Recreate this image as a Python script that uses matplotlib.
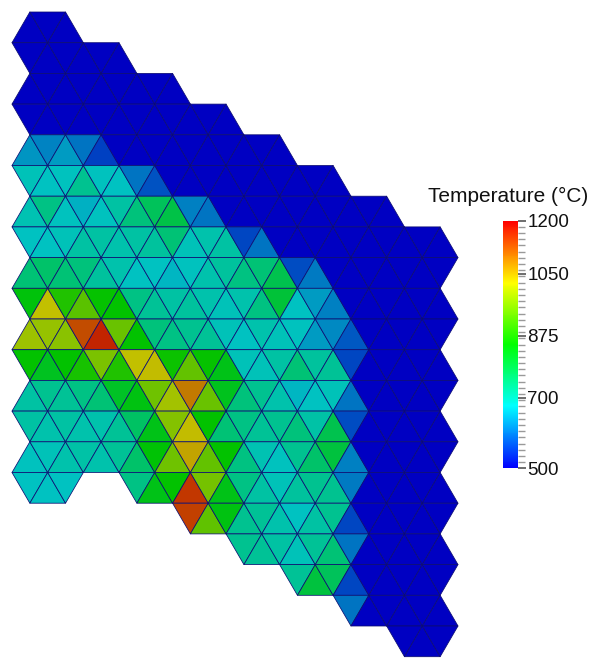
import numpy as np
import matplotlib
matplotlib.use("Agg")
import matplotlib.pyplot as plt
from matplotlib.colors import ListedColormap, Normalize, hsv_to_rgb
from matplotlib.collections import PolyCollection
from matplotlib.cm import ScalarMappable
from matplotlib.ticker import FixedLocator

# ---------------- data ----------------
D = 500  # cold (clamped) cells
vmin, vmax = 500, 1200
cbar_ticks = [500, 700, 875, 1050, 1200]
cbar_title = "Temperature (°C)"

# hexagon columns: first and last triangle strip covered by each column
col_first = [0, 1, 2, 3, 4, 5, 6, 7]
col_last = [15, 14, 15, 16, 17, 18, 19, 20]

# temperature of each triangle, strip by strip, left to right
s00 = [D] * 3
s01 = [D] * 6
s02 = [D] * 9
s03 = [D] * 12
s04 = [635, 620, 640, 605, 560] + [D] * 10
s05 = [685, 675, 680, 720, 680, 675, 605, 575] + [D] * 10
s06 = [690, 730, 680, 660, 680, 705, 740, 770, 785, 615, 605] + [D] * 10
s07 = [675, 675, 685, 705, 705, 695, 705, 710, 745, 685, 695, 705, 565, 605] + [D] * 10
s08 = [745, 755, 745, 740, 710, 695, 675, 675, 665, 680, 695, 710, 735, 745, 780, 570, 610] + [D] * 7
s09 = [840, 1025, 880, 930, 855, 850, 730, 715, 705, 710, 695, 685, 695, 735, 800, 675, 640, 615] + [D] * 6
s10 = [990, 985, 975, 1130, 1165, 945, 850, 740, 730, 720, 715, 685, 675, 695, 685, 680, 640, 625, 580] + [D] * 5
s11 = [850, 820, 850, 870, 960, 880, 1025, 1030, 860, 940, 855, 830, 685, 685, 705, 745, 710, 715, 565] + [D] * 5
s12 = [705, 720, 715, 730, 745, 815, 835, 950, 995, 1090, 945, 825, 740, 720, 695, 665, 675, 685, 605] + [D] * 5
s13 = [705, 695, 705, 695, 695, 715, 760, 830, 970, 1030, 850, 745, 730, 715, 720, 740, 700, 780, 570] + [D] * 5
s14 = [680, 685, 695, 700, 695, 715, 755, 845, 950, 1050, 940, 850, 735, 690, 680, 720, 755, 795, 615] + [D] * 5
s15 = [675, 675, 675] + [730, 830, 850, 1150, 955, 830, 730, 705, 685, 710, 720, 720, 610] + [D] * 5
s16 = [1140, 935, 835, 720, 715, 695, 675, 705, 720, 565] + [D] * 5
s17 = [720, 715, 705, 685, 715, 745, 605] + [D] * 5
s18 = [715, 795, 770, 565] + [D] * 5
s19 = [605] + [D] * 5
s20 = [D] * 3
strips = [s00, s01, s02, s03, s04, s05, s06, s07, s08, s09, s10,
          s11, s12, s13, s14, s15, s16, s17, s18, s19, s20]

# ---------------- mesh ----------------
polys, vals = [], []
for j, row in enumerate(strips):
    us = [u for a in range(len(col_first)) if col_first[a] <= j <= col_last[a]
          for u in (3 * a + 1, 3 * a + 2, 3 * a + 3)]
    assert len(us) == len(row), (j, len(us), len(row))
    for u, v in zip(us, row):
        if (u + j) % 2 == 1:
            tri = [(u, j), (u - 1, j + 1), (u + 1, j + 1)]
        else:
            tri = [(u - 1, j), (u + 1, j), (u, j + 1)]
        polys.append(tri)
        vals.append(v)

hues = np.linspace(2 / 3, 0, 256)
rgb = hsv_to_rgb(np.stack([hues, np.ones_like(hues), np.ones_like(hues)], axis=1))
cmap_bar = ListedColormap(rgb)
cmap_mesh = ListedColormap(rgb * 0.76)
norm = Normalize(vmin=vmin, vmax=vmax)

W, H = 610, 658
fig = plt.figure(figsize=(W / 100, H / 100), dpi=100)
ax = fig.add_axes([0, 0, 1, 1])
sx, sy, x0, y0 = 17.84, 30.7, 12.0, 12.0
ax.set_xlim(-x0 / sx, (W - x0) / sx)
ax.set_ylim((H - y0) / sy, -y0 / sy)
ax.axis("off")

pc = PolyCollection(polys, cmap=cmap_mesh, norm=norm,
                    edgecolors=(0.05, 0.05, 0.45), linewidths=0.55)
pc.set_array(np.array(vals, dtype=float))
ax.add_collection(pc)

# ---------------- colorbar ----------------
bx0, bx1, by0, by1 = 503.3, 517.7, 220.7, 468.3
cax = fig.add_axes([bx0 / W, 1 - by1 / H, (bx1 - bx0) / W, (by1 - by0) / H])
cb = fig.colorbar(ScalarMappable(norm=norm, cmap=cmap_bar), cax=cax)
cb.outline.set_visible(False)
cb.set_ticks(cbar_ticks)
cax.yaxis.set_minor_locator(FixedLocator(np.linspace(vmin, vmax, 41)))
for lab in cax.get_yticklabels():
    lab.set_fontfamily("Liberation Sans")
cax.tick_params(axis="y", which="major", length=6, width=1.2, color="#555555",
                labelsize=13.5, pad=1, labelcolor="#111111")
cax.tick_params(axis="y", which="minor", length=5, width=1.0, color="#999999")
fig.text(508.5 / W, 1 - 196 / H, cbar_title, ha="center", va="center",
         fontsize=15, family="Liberation Sans", color="#111111")

fig.savefig("out.png", dpi=100)
